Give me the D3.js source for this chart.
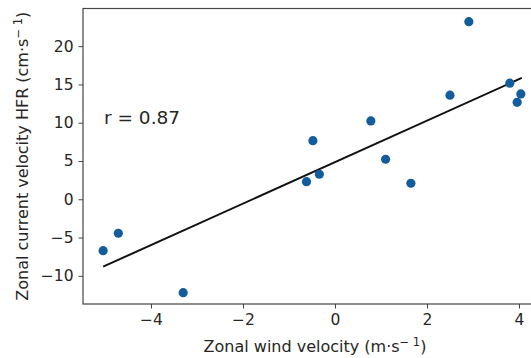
<!DOCTYPE html>
<html><head><meta charset="utf-8">
<script src="https://cdn.jsdelivr.net/npm/d3@7"></script>
<style>body{margin:0;background:#fff}svg{display:block}text{font-family:"DejaVu Sans",sans-serif;fill:#262626}</style>
</head><body><svg id="c" width="531" height="358"></svg>
<script>
const windVelocity = [-5.04, -4.71, -3.30, -0.62, -0.48, -0.34, 0.78, 1.10, 1.65, 2.50, 2.91, 3.80, 4.04, 3.96];
const currentVelocity = [-6.72, -4.44, -12.2, 2.3, 7.66, 3.27, 10.24, 5.23, 2.09, 13.6, 23.2, 15.16, 13.76, 12.67];
const fitLineX = [-5.04, 4.06];
const fitLineY = [-8.8, 15.85];
const xTicks = [-4, -2, 0, 2, 4];
const yTicks = [-10, -5, 0, 5, 10, 15, 20];
const annotation = "r = 0.87";
const xLabel = ["Zonal wind velocity (m\u00b7s", "\u2212 1", ")"];
const yLabel = ["Zonal current velocity HFR (cm\u00b7s", "\u2212 1", ")"];

const svg = d3.select("#c");
const L = 83, R = 543, T = 8.5, B = 304;
const x = d3.scaleLinear().domain([-5.478, 4.522]).range([L, R]);
const y = d3.scaleLinear().domain([-13.68, 24.92]).range([B, T]);

const gx = svg.append("g").attr("transform", `translate(0,${B})`)
  .call(d3.axisBottom(x).tickValues(xTicks).tickSize(4.5).tickPadding(5).tickFormat(d => d < 0 ? "\u2212" + Math.abs(d) : d));
const gy = svg.append("g").attr("transform", `translate(${L},0)`)
  .call(d3.axisLeft(y).tickValues(yTicks).tickSize(4.5).tickPadding(5).tickFormat(d => d < 0 ? "\u2212" + Math.abs(d) : d));
[gx, gy].forEach(g => {
  g.select(".domain").remove();
  g.selectAll(".tick line").attr("stroke", "#444").attr("stroke-width", 1);
  g.selectAll(".tick text").style("font-size", "15.5px").style("font-family", '"DejaVu Sans",sans-serif').attr("fill", "#262626");
});
svg.append("rect").attr("x", L).attr("y", T).attr("width", R - L).attr("height", B - T)
  .attr("fill", "none").attr("stroke", "#444").attr("stroke-width", 1.2);

svg.append("line")
  .attr("x1", x(fitLineX[0])).attr("y1", y(fitLineY[0]))
  .attr("x2", x(fitLineX[1])).attr("y2", y(fitLineY[1]))
  .attr("stroke", "#111").attr("stroke-width", 2);

svg.append("g").selectAll("circle").data(windVelocity.map((v, i) => [v, currentVelocity[i]]))
  .join("circle").attr("cx", d => x(d[0])).attr("cy", d => y(d[1])).attr("r", 4.6).attr("fill", "#135d9c");

svg.append("text").attr("x", 104).attr("y", 124).style("font-size", "18.5px").text(annotation);

function label(t, parts) {
  t.style("font-size", "16px");
  t.append("tspan").text(parts[0]);
  t.append("tspan").attr("dy", -6).style("font-size", "11.5px").text(parts[1]);
  t.append("tspan").attr("dy", 6).text(parts[2]);
}
svg.append("text").attr("x", (L + R) / 2 + 2).attr("y", 352).attr("text-anchor", "middle").call(label, xLabel);
svg.append("text").attr("transform", `translate(28,${(T + B) / 2}) rotate(-90)`).attr("text-anchor", "middle").call(label, yLabel);
</script></body></html>
